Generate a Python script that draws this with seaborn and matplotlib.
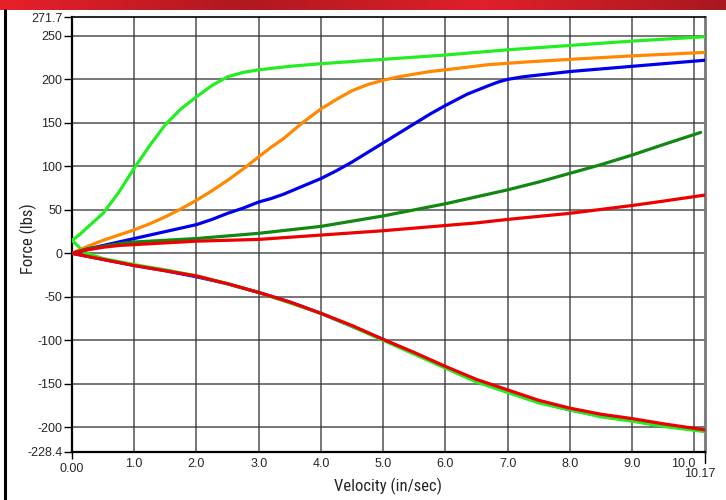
import numpy as np
import pandas as pd
import matplotlib
matplotlib.use("Agg")
import matplotlib.pyplot as plt
import matplotlib.transforms as mtransforms
import seaborn as sns

# Extension curves (upper), force in lbs vs velocity in in/sec
lime_x = [0.0, 0.13, 0.25, 0.5, 0.75, 1.0, 1.25, 1.5, 1.75, 2.0, 2.25, 2.5, 2.75, 3.0, 3.5, 4.0, 5.0, 6.0, 7.0, 8.0, 9.0, 10.17]
lime_y = [15, 22, 30, 46, 70, 98, 124, 148, 166, 180, 193, 203, 208, 211, 215, 218, 223, 228, 234, 239, 244, 249]

orange_x = [0.0, 0.25, 0.5, 0.75, 1.0, 1.25, 1.5, 1.75, 2.0, 2.25, 2.5, 2.75, 3.0, 3.2, 3.4, 3.7, 4.0, 4.25, 4.5,
            4.75, 5.0, 5.25, 5.5, 5.75, 6.0, 6.35, 6.7, 7.3, 8.0, 9.0, 10.17]
orange_y = [0, 8, 15, 21, 27, 34, 42, 51, 61, 72, 84, 97, 111, 122, 132, 150, 166, 177, 187,
            194, 199, 203, 206, 209, 211, 214, 217, 220, 223, 227, 231]

blue_x = [0.0, 0.25, 0.5, 0.75, 1.0, 1.25, 1.5, 1.75, 2.0, 2.25, 2.5, 2.75, 3.0, 3.2, 3.4, 3.7, 4.0, 4.25, 4.5,
          4.75, 5.0, 5.25, 5.5, 5.75, 6.0, 6.35, 6.7, 6.85, 7.0, 7.25, 7.5, 8.0, 8.5, 9.0, 9.5, 10.17]
blue_y = [0, 5, 9, 13, 17, 21, 25, 29, 33, 39, 46, 52, 59, 63, 68, 77, 86, 95, 105,
          116, 127, 138, 149, 160, 170, 183, 193, 197, 200, 203, 205, 209, 212, 215, 218, 222]

dkgreen_x = [0.0, 0.25, 0.5, 0.75, 1.0, 1.5, 2.0, 2.5, 3.0, 3.5, 4.0, 4.5, 5.0, 5.5, 6.0, 6.5, 7.0, 7.5, 8.0,
             8.5, 9.0, 9.5, 10.1]
dkgreen_y = [0, 5, 8, 11, 13, 15, 17, 20, 23, 27, 31, 37, 43, 50, 57, 65, 73, 82, 92,
             102, 113, 125, 139]

red_x = [0.0, 0.25, 0.5, 0.75, 1.0, 1.5, 2.0, 2.5, 3.0, 3.5, 4.0, 4.5, 5.0, 5.5, 6.0, 6.5, 7.0, 7.5, 8.0,
         8.5, 9.0, 9.5, 10.17]
red_y = [0, 4, 7, 9, 10, 12, 14, 15, 16, 18.5, 21, 23.5, 26, 29, 32, 35, 39, 42.5, 46,
         50.5, 55, 60, 67]

# Compression curves (lower)
low_x = [0.0, 0.5, 1.0, 1.5, 2.0, 2.5, 3.0, 3.5, 4.0, 4.5, 5.0, 5.5, 6.0, 6.5, 7.0, 7.5, 8.0, 8.5, 9.0,
         9.5, 10.17]
low_red_y = [0, -7, -14, -20, -26, -35, -45, -56, -69, -83, -99, -114, -130, -145, -157, -169, -178, -185, -190,
             -196, -203]
low_blue_y = [0, -7, -14, -20, -27, -35, -45, -56, -69, -84, -99, -115, -131, -146, -159, -171, -180, -187, -192,
              -198, -204]
low_lime_x = [0.0, 0.2, 0.5, 1.0, 1.5, 2.0, 2.5, 3.0, 3.5, 4.0, 4.5, 5.0, 5.5, 6.0, 6.5, 7.0, 7.5, 8.0, 8.5,
              9.0, 9.5, 10.17]
low_lime_y = [15, 1, -6, -13, -19, -26, -35, -45, -57, -69, -84, -100, -116, -132, -148, -160, -172, -180, -188,
              -193, -199, -205]

series = [
    ("low_blue", low_x, low_blue_y, "#0000ee"),
    ("low_lime", low_lime_x, low_lime_y, "#22ee22"),
    ("low_red", low_x, low_red_y, "#ee0000"),
    ("lime", lime_x, lime_y, "#22ee22"),
    ("orange", orange_x, orange_y, "#ff8800"),
    ("blue", blue_x, blue_y, "#0000ee"),
    ("dkgreen", dkgreen_x, dkgreen_y, "#118811"),
    ("red", red_x, red_y, "#ee0000"),
]

frames = []
for name, xs, ys, _ in series:
    frames.append(pd.DataFrame({"velocity": xs, "force": ys, "curve": name}))
df = pd.concat(frames, ignore_index=True)
palette = {name: c for name, _, _, c in series}

sns.set_style("white")
plt.rcParams["font.family"] = ["Liberation Sans", "DejaVu Sans"]

fig = plt.figure(figsize=(7.26, 5.0), dpi=100)
ax = fig.add_axes([72 / 726, 48 / 500, 633 / 726, 435 / 500])

sns.lineplot(data=df, x="velocity", y="force", hue="curve", palette=palette,
             hue_order=[s[0] for s in series], sort=False, estimator=None,
             units="curve", linewidth=2.3, legend=False, ax=ax, zorder=3)

ax.set_xlim(0, 10.17)
ax.set_ylim(-228.4, 271.7)

# major ticks carry the grid, minor ticks carry the range ends
ax.set_xticks(np.arange(1, 11))
ax.set_xticklabels([f"{v:.1f}" for v in range(1, 11)])
ax.set_xticks([0], minor=True)
ax.set_xticklabels(["0.00"], minor=True)
ax.set_yticks(np.arange(-200, 251, 50))
ax.set_yticklabels([str(v) for v in range(-200, 251, 50)])
ax.set_yticks([-228.4, 271.7], minor=True)
ax.set_yticklabels(["-228.4", "271.7"], minor=True)

ax.tick_params(axis="x", which="major", length=0, pad=4, labelsize=9)
ax.tick_params(axis="x", which="minor", bottom=True, length=5, width=1, pad=3,
               color="black", labelsize=9)
ax.tick_params(axis="y", which="both", length=6, width=1, pad=1, labelsize=9,
               left=True, color="black")

# the 10.0 label is nudged left to leave room for the range end label
shift = mtransforms.ScaledTranslation(-11 / 100, 0, fig.dpi_scale_trans)
lab10 = ax.get_xticklabels()[-1]
lab10.set_transform(lab10.get_transform() + shift)

# right end of the velocity range, placed lower than the rest
xt = ax.get_xaxis_transform()
ax.plot([10.17, 10.17], [0, -0.025], transform=xt, color="black", lw=1, clip_on=False)
ax.text(10.17 - 5 / 62.3, -0.036, "10.17", transform=xt, ha="center", va="top", fontsize=9)

ax.grid(which="major", color="#333333", linewidth=1.1, alpha=0.85)
ax.grid(which="minor", visible=False)
for side in ax.spines.values():
    side.set_color("black")
    side.set_linewidth(1.2)
ax.spines["left"].set_linewidth(1.6)
ax.spines["bottom"].set_linewidth(1.6)
ax.spines["right"].set_color("#777777")
ax.spines["right"].set_linewidth(2)

label_font = ["Liberation Sans Narrow", "Roboto Condensed", "Liberation Sans", "DejaVu Sans"]
ax.set_xlabel("Velocity (in/sec)", fontsize=12, family=label_font)
ax.set_ylabel("Force (lbs)", fontsize=12, family=label_font)
ax.xaxis.set_label_coords(0.5, -(486 - 452) / 435)
ax.yaxis.set_label_coords(-(72 - 28) / 633, 0.49)
ax.xaxis.label.set_va("center")
ax.yaxis.label.set_va("center")

# red header strip and left border
hdr = fig.add_axes([0, 490 / 500, 1, 10 / 500])
grad = np.linspace(0, 1, 256).reshape(1, -1)
cmap = matplotlib.colors.LinearSegmentedColormap.from_list(
    "hdr", ["#e8202a", "#b01820", "#e0202a", "#a81820"])
hdr.imshow(grad, aspect="auto", cmap=cmap)
hdr.axis("off")
fig.add_artist(plt.Line2D([4.5 / 726, 4.5 / 726], [0, 490 / 500], color="black", lw=2.2))

fig.savefig("out.png", dpi=100)
